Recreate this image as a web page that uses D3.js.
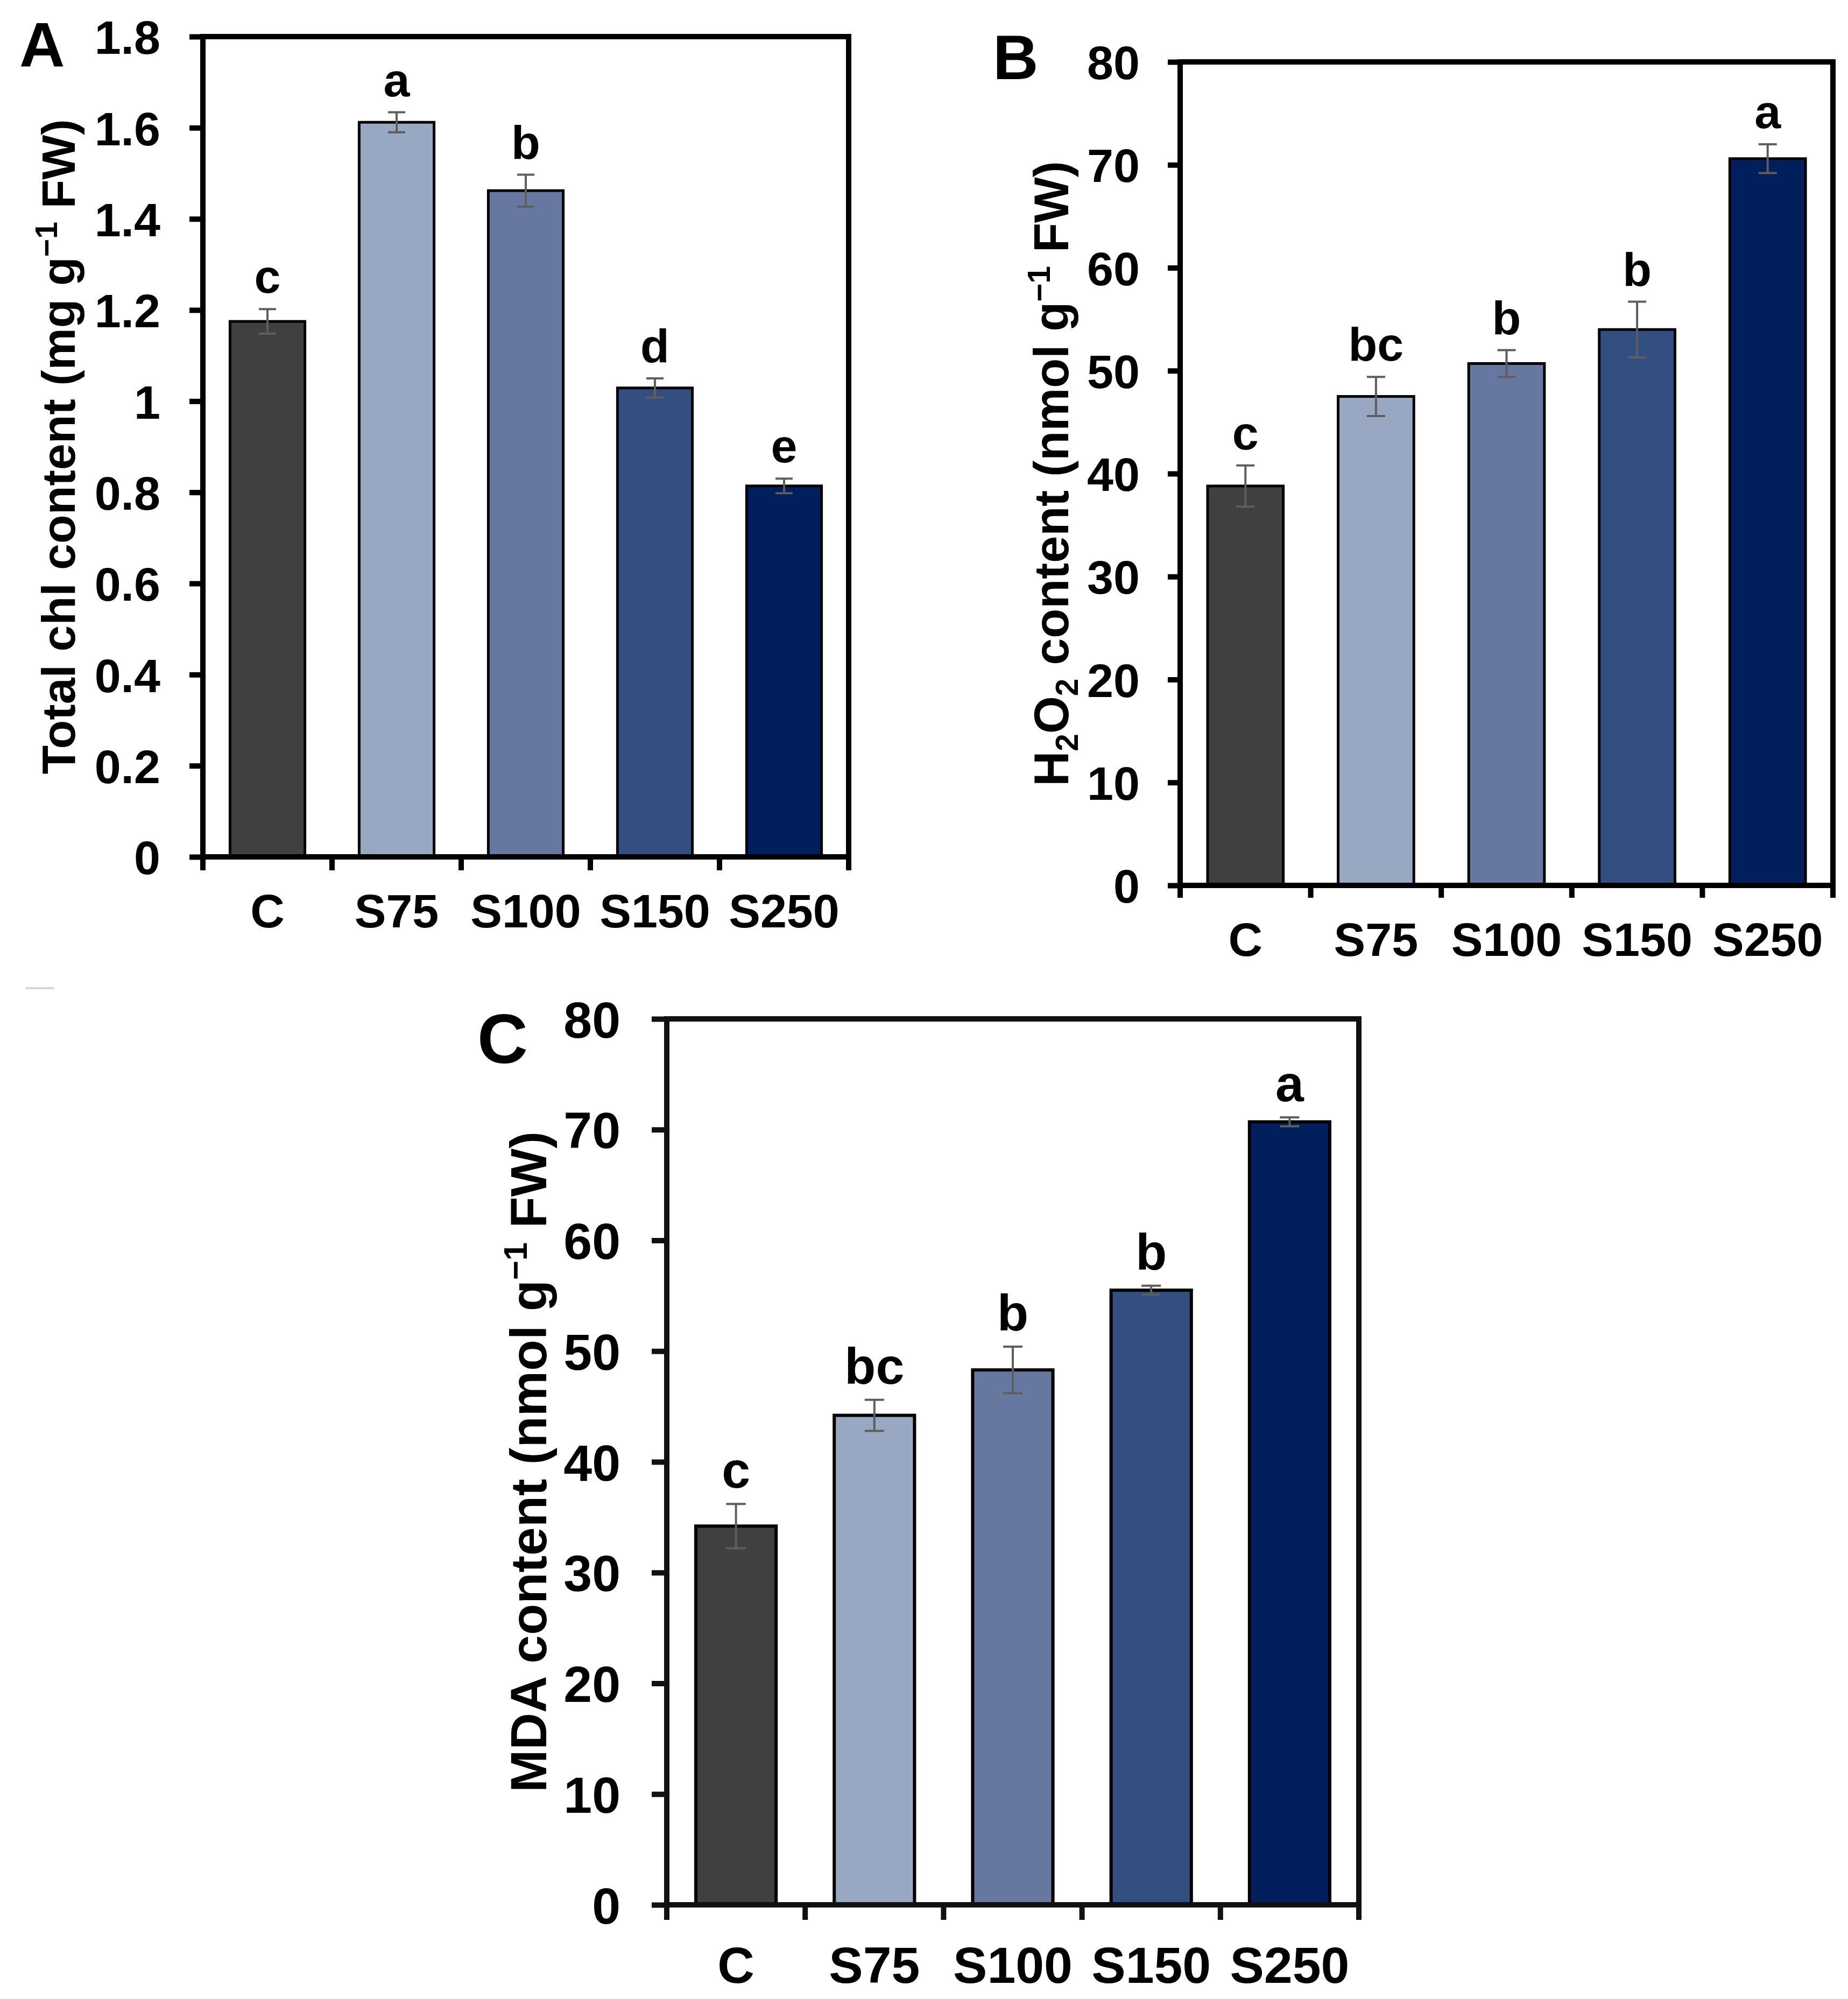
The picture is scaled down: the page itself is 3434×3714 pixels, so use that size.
<!DOCTYPE html>
<html>
<head>
<meta charset="utf-8">
<script src="https://cdn.jsdelivr.net/npm/d3@7"></script>
<style>
  body { margin: 0; background: #fff; }
  svg { display: block; }
</style>
</head>
<body>
<div id="chart"></div>
<script>
// groups shared by all three panels
const groups = ['C', 'S75', 'S100', 'S150', 'S250']
const barColors = ['#404040', '#98a7c2', '#6778a0', '#334e80', '#011f5d']

// A: total chlorophyll
const chlValues = [1.175, 1.612, 1.462, 1.029, 0.814]
const chlErrors = [0.027, 0.022, 0.035, 0.021, 0.016]
const chlLetters = ['c', 'a', 'b', 'd', 'e']
const chlTicks = [0, 0.2, 0.4, 0.6, 0.8, 1, 1.2, 1.4, 1.6, 1.8]

// B: H2O2
const h2o2Values = [38.8, 47.5, 50.7, 54.0, 70.6]
const h2o2Errors = [2.0, 1.9, 1.3, 2.7, 1.4]
const h2o2Letters = ['c', 'bc', 'b', 'b', 'a']
const h2o2Ticks = [0, 10, 20, 30, 40, 50, 60, 70, 80]

// C: MDA
const mdaValues = [34.2, 44.2, 48.3, 55.5, 70.7]
const mdaErrors = [2.0, 1.4, 2.1, 0.4, 0.4]
const mdaLetters = ['c', 'bc', 'b', 'b', 'a']
const mdaTicks = [0, 10, 20, 30, 40, 50, 60, 70, 80]

const W = 3434
const H = 3714
const font = '"Liberation Sans", Arial, sans-serif'

const svg = d3.select('#chart').append('svg')
  .attr('width', W)
  .attr('height', H)
  .attr('viewBox', `0 0 ${W} ${H}`)

svg.append('rect').attr('width', W).attr('height', H).attr('fill', '#fff')

// faint stray mark left of panel C in the original figure
svg.append('line')
  .attr('x1', 48).attr('x2', 100)
  .attr('y1', 1836).attr('y2', 1836)
  .attr('stroke', '#d8d8d8')
  .attr('stroke-width', 4)

const drawPanel = (cfg) => {
  const g = svg.append('g')
  const { left, right, top, bottom } = cfg.box

  const x = d3.scaleBand()
    .domain(groups)
    .range([left, right])
    .paddingInner(0.42)
    .paddingOuter(0.21)

  const y = d3.scaleLinear()
    .domain([0, d3.max(cfg.ticks)])
    .range([bottom, top])

  const lw = cfg.lineWidth

  // bars
  g.selectAll('.bar')
    .data(cfg.values)
    .enter()
    .append('rect')
    .attr('class', 'bar')
    .attr('x', (d, i) => x(groups[i]))
    .attr('width', x.bandwidth())
    .attr('y', d => y(d))
    .attr('height', d => y(0) - y(d))
    .attr('fill', (d, i) => barColors[i])
    .attr('stroke', '#000')
    .attr('stroke-width', cfg.barStroke)

  // error bars
  const eb = g.selectAll('.err')
    .data(cfg.values)
    .enter()
    .append('g')
    .attr('class', 'err')
    .attr('stroke', '#5e5e5e')
    .attr('stroke-width', 4)
  const cx = (i) => x(groups[i]) + x.bandwidth() / 2
  eb.append('line')
    .attr('x1', (d, i) => cx(i)).attr('x2', (d, i) => cx(i))
    .attr('y1', (d, i) => y(d + cfg.errors[i]))
    .attr('y2', (d, i) => y(d - cfg.errors[i]))
  eb.append('line')
    .attr('x1', (d, i) => cx(i) - cfg.cap).attr('x2', (d, i) => cx(i) + cfg.cap)
    .attr('y1', (d, i) => y(d + cfg.errors[i]))
    .attr('y2', (d, i) => y(d + cfg.errors[i]))
  eb.append('line')
    .attr('x1', (d, i) => cx(i) - cfg.cap).attr('x2', (d, i) => cx(i) + cfg.cap)
    .attr('y1', (d, i) => y(d - cfg.errors[i]))
    .attr('y2', (d, i) => y(d - cfg.errors[i]))

  // significance letters
  g.selectAll('.letter')
    .data(cfg.values)
    .enter()
    .append('text')
    .attr('class', 'letter')
    .attr('x', (d, i) => cx(i))
    .attr('y', (d, i) => y(d + cfg.errors[i]) - 30)
    .attr('text-anchor', 'middle')
    .attr('font-family', font)
    .attr('font-weight', 'bold')
    .attr('font-size', cfg.textSize)
    .text((d, i) => cfg.letters[i])

  // frame
  g.append('rect')
    .attr('x', left)
    .attr('y', top)
    .attr('width', right - left)
    .attr('height', bottom - top)
    .attr('fill', 'none')
    .attr('stroke', cfg.lineColor)
    .attr('stroke-width', lw)

  // y axis
  const yAxis = g.append('g')
    .attr('transform', `translate(${left},0)`)
    .call(d3.axisLeft(y)
      .tickValues(cfg.ticks)
      .tickSize(cfg.tickLen)
      .tickPadding(cfg.tickPad)
      .tickFormat(d => String(+d.toFixed(1))))
  yAxis.select('.domain').remove()
  yAxis.selectAll('.tick line')
    .attr('stroke', cfg.lineColor)
    .attr('stroke-width', lw)
  yAxis.selectAll('.tick text')
    .attr('font-family', font)
    .attr('font-weight', 'bold')
    .attr('font-size', cfg.textSize)
    .attr('fill', '#000')
    .attr('dy', '0.36em')

  // x axis: ticks on group boundaries, labels under groups
  const bounds = d3.range(groups.length + 1).map(i => left + i * x.step())
  g.selectAll('.xtick')
    .data(bounds)
    .enter()
    .append('line')
    .attr('class', 'xtick')
    .attr('x1', d => d).attr('x2', d => d)
    .attr('y1', bottom).attr('y2', bottom + cfg.tickLen)
    .attr('stroke', cfg.lineColor)
    .attr('stroke-width', lw)

  const xAxis = g.append('g')
    .attr('transform', `translate(0,${bottom})`)
    .call(d3.axisBottom(x).tickSize(0).tickPadding(0))
  xAxis.select('.domain').remove()
  xAxis.selectAll('.tick text')
    .attr('font-family', font)
    .attr('font-weight', 'bold')
    .attr('font-size', cfg.textSize)
    .attr('fill', '#000')
    .attr('dy', null)
    .attr('y', cfg.xLabelOffset)

  // y title (rotated) with sub/superscripts
  const title = g.append('text')
    .attr('transform', `translate(${cfg.titleX},${(top + bottom) / 2}) rotate(-90)`)
    .attr('text-anchor', 'middle')
    .attr('font-family', font)
    .attr('font-weight', 'bold')
    .attr('font-size', cfg.titleSize)
  const small = cfg.titleSize * 0.65
  cfg.title.forEach(part => {
    const t = title.append('tspan').text(part.t)
    if (part.sub) t.attr('font-size', small).attr('dy', cfg.titleSize * 0.2)
    if (part.sup) t.attr('font-size', small).attr('dy', -cfg.titleSize * 0.38)
    if (part.back) t.attr('dy', part.back * cfg.titleSize)
  })

  // panel letter
  g.append('text')
    .attr('x', cfg.label.x)
    .attr('y', cfg.label.y)
    .attr('font-family', font)
    .attr('font-weight', 'bold')
    .attr('font-size', cfg.label.size)
    .text(cfg.label.text)
}

drawPanel({
  box: { left: 377, right: 1577, top: 68, bottom: 1592 },
  values: chlValues, errors: chlErrors, letters: chlLetters, ticks: chlTicks,
  lineWidth: 10, lineColor: '#000', barStroke: 5, cap: 16,
  tickLen: 25, tickPad: 54, textSize: 88, xLabelOffset: 131,
  titleX: 139, titleSize: 88,
  title: [
    { t: 'Total chl content (mg g' },
    { t: '−1', sup: true },
    { t: ' FW)', back: 0.38 }
  ],
  label: { text: 'A', x: 36, y: 124, size: 117 }
})

drawPanel({
  box: { left: 2193, right: 3406, top: 115, bottom: 1645 },
  values: h2o2Values, errors: h2o2Errors, letters: h2o2Letters, ticks: h2o2Ticks,
  lineWidth: 10, lineColor: '#000', barStroke: 5, cap: 17,
  tickLen: 23, tickPad: 52, textSize: 88, xLabelOffset: 131,
  titleX: 1985, titleSize: 90,
  title: [
    { t: 'H' },
    { t: '2', sub: true },
    { t: 'O', back: -0.2 },
    { t: '2', sub: true },
    { t: ' content (nmol g', back: -0.2 },
    { t: '−1', sup: true },
    { t: ' FW)', back: 0.38 }
  ],
  label: { text: 'B', x: 1845, y: 147, size: 117 }
})

drawPanel({
  box: { left: 1239, right: 2525, top: 1893, bottom: 3539 },
  values: mdaValues, errors: mdaErrors, letters: mdaLetters, ticks: mdaTicks,
  lineWidth: 10, lineColor: '#111', barStroke: 6, cap: 18,
  tickLen: 28, tickPad: 58, textSize: 95, xLabelOffset: 145,
  titleX: 1015, titleSize: 95,
  title: [
    { t: 'MDA content (nmol g' },
    { t: '−1', sup: true },
    { t: ' FW)', back: 0.38 }
  ],
  label: { text: 'C', x: 887, y: 1975, size: 130 }
})
</script>
</body>
</html>
